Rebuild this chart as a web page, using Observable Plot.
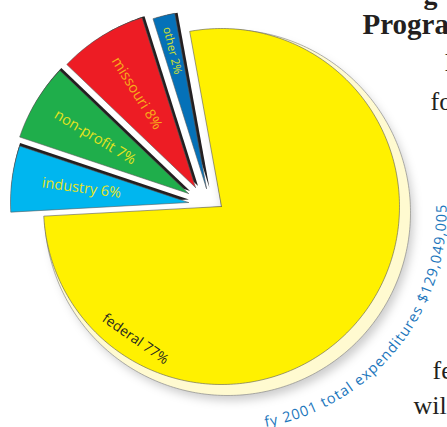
<!DOCTYPE html>
<html><head><meta charset="utf-8">
<script src="https://cdn.jsdelivr.net/npm/d3@7"></script>
<script src="https://cdn.jsdelivr.net/npm/@observablehq/plot@0.6"></script>
<style>html,body{margin:0;padding:0;background:#fff;overflow:hidden}</style>
</head><body><div id="chart"></div>
<script>
// ---- data ----
const categories = ["federal", "industry", "non-profit", "missouri", "other"];
const values = [77, 6, 7, 8, 2];
const sliceLabels = ["federal 77%", "industry 6%", "non-profit 7%", "missouri 8%", "other 2%"];
const caption = "fy 2001 total expenditures $129,049,005";
const bodyText = ["g", "Progra", "I", "fo", "fe", "wil"];

// ---- layout / style ----
const W = 447, H = 427;
const C = {x: 221, y: 206}, R = 178;
const startDeg = -10.3;
const sliceColors = ["#fff100", "#00b6ef", "#1fae4b", "#ed1c24", "#0571b8"];
const labelColors = ["#231f20", "#e4e41e", "#e4e41e", "#f8ac1a", "#d6e22a"];
const explode = {"federal": [0, 0], "industry": [-33, -4], "non-profit": [-33, -13], "missouri": [-26, -19], "other": [-15, -18]};
const labelDist = {"industry": 108, "non-profit": 109, "missouri": 111, "other": 142};
const labelSize = {"industry": 14.5, "non-profit": 14.5, "missouri": 14.5, "other": 11.5};
const federalLabel = {angle: 213, r: 158, size: 14};
const captionArc = {cx: 226, cy: 210, r: 220, from: 169.8, to: 88.5, size: 14.5};
const bodyPos = [
  {x: 423, y: 3, w: "bold", s: 28}, {x: 362, y: 33, w: "bold", s: 29},
  {x: 444, y: 70, w: "normal", s: 26}, {x: 430, y: 109, w: "normal", s: 26},
  {x: 432, y: 378, w: "normal", s: 26}, {x: 413, y: 413, w: "normal", s: 26}
];

const rad = Math.PI / 180;
const rows = categories.map((k, i) => ({k, v: values[i], label: sliceLabels[i], lc: labelColors[i]}));
const arcs = d3.pie().sort(null).value(d => d.v)
  .startAngle(startDeg * rad).endAngle(startDeg * rad + 2 * Math.PI)(rows);

// wedge: apex at (ax, ay); outer rim from circle centred at (rx, ry) with radius rr
function wedge(a, ax, ay, rx, ry, rr, key) {
  const pts = [{k: key, x: ax, y: ay}];
  const n = Math.max(4, Math.ceil((a.endAngle - a.startAngle) / rad));
  for (let i = 0; i <= n; i++) {
    const t = a.startAngle + (a.endAngle - a.startAngle) * i / n;
    pts.push({k: key, x: rx + rr * Math.sin(t), y: ry - rr * Math.cos(t)});
  }
  pts.push({k: key, x: ax, y: ay});
  return pts;
}
const poly = (a, ox, oy, key) => wedge(a, C.x + ox, C.y + oy, C.x + ox, C.y + oy, R, key);

const slicePts = [], shadowPts = [], labelRows = [], creamPts = [], bluePts = [];
for (const a of arcs) {
  const k = a.data.k;
  const [ox, oy] = explode[k];
  const b = (a.startAngle + a.endAngle) / 2;
  slicePts.push(...poly(a, ox, oy, k));
  if (k !== "federal") {
    shadowPts.push(...poly(a, ox + 3 * Math.cos(b), oy + 3 * Math.sin(b), k));
    const d = labelDist[k];
    labelRows.push({
      x: C.x + ox + d * Math.sin(b), y: C.y + oy - d * Math.cos(b),
      rot: b / rad + 90, text: a.data.label, color: a.data.lc, size: labelSize[k]
    });
  } else {
    creamPts.push(...wedge(a, C.x, C.y, C.x + 6, C.y + 6, R + 5, "cream"));
    bluePts.push(...wedge(a, C.x + 2, C.y + 4, C.x + 10, C.y + 12, R + 4, "blur"));
    const t = federalLabel.angle * rad;
    labelRows.push({
      x: C.x + federalLabel.r * Math.sin(t), y: C.y - federalLabel.r * Math.cos(t),
      rot: federalLabel.angle - 178, text: a.data.label, color: a.data.lc, size: federalLabel.size
    });
  }
}
labelRows.forEach(d => { d.rot = ((d.rot % 360) + 540) % 360 - 180; });

// caption along an arc (characters measured, then spread over the arc span)
const ctx = document.createElement("canvas").getContext("2d");
ctx.font = `${captionArc.size}px "Open Sans"`;
const chars = [...caption];
const widths = chars.map(c => ctx.measureText(c).width);
const total = d3.sum(widths);
const spanLen = (captionArc.from - captionArc.to) * rad * captionArc.r;
const extra = (spanLen - total) / (chars.length - 1);
let s = 0;
const capRows = [];
chars.forEach((c, i) => {
  const mid = s + widths[i] / 2;
  const th = captionArc.from * rad - mid / captionArc.r;
  if (c !== " ") capRows.push({
    c, x: captionArc.cx + captionArc.r * Math.sin(th), y: captionArc.cy - captionArc.r * Math.cos(th),
    rot: th / rad - 180
  });
  s += widths[i] + extra;
});

const bodyRows = bodyText.map((t, i) => ({t, ...bodyPos[i]}));

const plot = Plot.plot({
  width: W, height: H, margin: 0,
  x: {domain: [0, W], range: [0, W], axis: null},
  y: {domain: [0, H], range: [0, H], axis: null},
  color: {domain: categories, range: sliceColors},
  style: {background: "#fff", overflow: "hidden"},
  marks: [
    Plot.line(bluePts, {x: "x", y: "y", z: "k", fill: "#000", fillOpacity: 0.2, stroke: "none", imageFilter: "blur(5px)"}),
    Plot.line(creamPts, {x: "x", y: "y", z: "k", fill: "#fffad0", stroke: "#8c8c8c", strokeWidth: 0.7}),
    Plot.line(shadowPts, {x: "x", y: "y", z: "k", fill: "#231f20", stroke: "none", curve: "linear"}),
    Plot.line(slicePts, {x: "x", y: "y", z: "k", fill: "k", stroke: "#5a5a5a", strokeWidth: 0.6, curve: "linear"}),
    ...labelRows.map(d => Plot.text([d], {x: "x", y: "y", text: "text", rotate: "rot", fill: d.color,
      fontSize: d.size, fontFamily: "Open Sans", textAnchor: "middle"})),
    Plot.text(capRows, {x: "x", y: "y", text: "c", rotate: "rot", fill: "#1b76bc", fontSize: captionArc.size,
      fontFamily: "Open Sans", textAnchor: "middle", lineAnchor: "bottom"}),
    ...bodyRows.map(d => Plot.text([d], {x: "x", y: "y", text: "t", fill: "#231f20", fontSize: d.s, fontWeight: d.w,
      fontFamily: "Liberation Serif", textAnchor: "start", lineAnchor: "bottom"}))
  ]
});
document.getElementById("chart").appendChild(plot);
</script>
</body></html>
